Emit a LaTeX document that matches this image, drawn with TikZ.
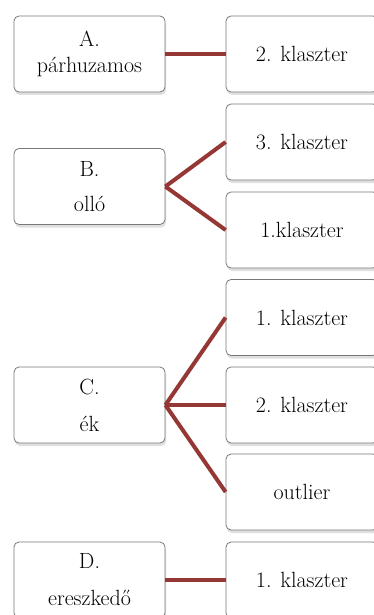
\documentclass[tikz,border=0pt]{standalone}
\usepackage{fontspec}
\usepackage{tikz}
\usetikzlibrary{shadows}
\definecolor{linkred}{RGB}{149,55,53}
\definecolor{boxline}{RGB}{120,120,120}

\begin{document}
\begin{tikzpicture}[x=1pt, y=-1pt,
  box/.style={draw=boxline, line width=.8pt, rounded corners=5pt, fill=white,
    minimum width=151pt, minimum height=76pt, align=center,
    font=\fontsize{22}{26}\selectfont\addfontfeature{FakeStretch=1.12,FakeBold=1},
    drop shadow={opacity=.25, shadow xshift=1pt, shadow yshift=-3pt}},
  link/.style={draw=linkred, line width=4pt}]

\useasboundingbox (0,0) rectangle (373,615);

% left column
\node[box] at (89.5, 54) (tA) {A.\\párhuzamos};
\node[box] at (89.5, 186.5) (tB) {B.\\[9pt]olló};
\node[box] at (89.5, 405) (tC) {C.\\[11pt]ék};
\node[box] at (89.5, 580) (tD) {D.\\[11pt]ereszkedő};

% right column
\node[box, minimum width=152pt] at (302, 54) (k1) {2. klaszter};
\node[box, minimum width=152pt] at (302, 142) (k2) {3. klaszter};
\node[box, minimum width=152pt] at (302, 230) (k3) {1.klaszter};
\node[box, minimum width=152pt] at (302, 317.5) (k4) {1. klaszter};
\node[box, minimum width=152pt] at (302, 405) (k5) {2. klaszter};
\node[box, minimum width=152pt] at (302, 492) (k6) {outlier};
\node[box, minimum width=152pt] at (302, 580) (k7) {1. klaszter};

\draw[link] (tA.east) -- (k1.west);
\draw[link] (tB.east) -- (k2.west);
\draw[link] (tB.east) -- (k3.west);
\draw[link] (tC.east) -- (k4.west);
\draw[link] (tC.east) -- (k5.west);
\draw[link] (tC.east) -- (k6.west);
\draw[link] (tD.east) -- (k7.west);

\end{tikzpicture}
\end{document}
